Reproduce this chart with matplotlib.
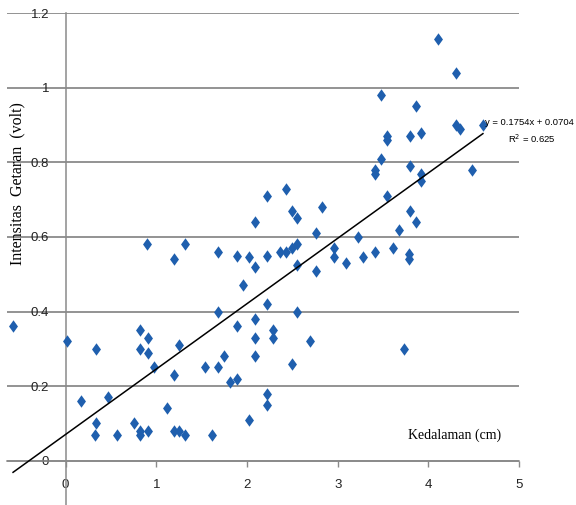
import matplotlib
matplotlib.use("Agg")
import matplotlib.pyplot as plt
from matplotlib.path import Path
from matplotlib.ticker import FuncFormatter
import numpy as np

# depth (cm) vs vibration intensity (volt)
kedalaman = [-0.58, 0.02, 0.33, 0.17, 0.47, 0.33, 0.32, 0.57, 0.75, 0.82,
             0.82, 0.91, 0.82, 0.82, 0.91, 0.91, 0.97, 0.90, 1.12, 1.19,
             1.25, 1.32, 1.19, 1.25, 1.19, 1.32, 1.61, 1.54, 1.68, 1.68,
             1.68, 1.75, 1.81, 1.89, 1.89, 1.89, 1.95, 2.02, 2.02, 2.09,
             2.09, 2.09, 2.09, 2.09, 2.22, 2.22, 2.22, 2.22, 2.22, 2.29,
             2.29, 2.36, 2.43, 2.43, 2.50, 2.50, 2.50, 2.55, 2.55, 2.55,
             2.55, 2.69, 2.76, 2.76, 2.83, 2.96, 2.96, 3.09, 3.22, 3.28,
             3.41, 3.41, 3.41, 3.48, 3.48, 3.54, 3.54, 3.54, 3.61, 3.67,
             3.73, 3.79, 3.79, 3.80, 3.80, 3.80, 3.86, 3.86, 3.92, 3.92,
             3.92, 4.10, 4.30, 4.30, 4.35, 4.48, 4.60]
intensitas = [0.36, 0.32, 0.30, 0.16, 0.17, 0.10, 0.07, 0.07, 0.10, 0.08,
              0.07, 0.08, 0.35, 0.30, 0.33, 0.29, 0.25, 0.58, 0.14, 0.08,
              0.08, 0.07, 0.23, 0.31, 0.54, 0.58, 0.07, 0.25, 0.25, 0.40,
              0.56, 0.28, 0.21, 0.22, 0.36, 0.55, 0.47, 0.11, 0.545, 0.38,
              0.33, 0.28, 0.52, 0.64, 0.42, 0.18, 0.15, 0.55, 0.71, 0.35,
              0.33, 0.56, 0.56, 0.73, 0.26, 0.57, 0.67, 0.40, 0.525, 0.58,
              0.65, 0.32, 0.51, 0.61, 0.68, 0.57, 0.545, 0.53, 0.60, 0.545,
              0.56, 0.78, 0.77, 0.81, 0.98, 0.71, 0.87, 0.86, 0.57, 0.62,
              0.30, 0.555, 0.54, 0.67, 0.79, 0.87, 0.64, 0.95, 0.77, 0.75,
              0.88, 1.13, 1.04, 0.90, 0.89, 0.78, 0.90]

# linear trendline as printed on the chart
slope = 0.1754
intercept = 0.0704
trend_x = [-0.58, 4.60]

x_ticks = [0, 1, 2, 3, 4, 5]
y_ticks = [0, 0.2, 0.4, 0.6, 0.8, 1.0, 1.2]

sans = ['Liberation Sans', 'DejaVu Sans']
serif = ['Liberation Serif', 'DejaVu Serif']

fig = plt.figure(figsize=(5.76, 5.05), dpi=100)
ax = fig.add_axes([6.7 / 576, 0.0, 512.5 / 576, (505 - 13.3) / 505])
ax.set_xlim(-0.65, 5.0)
ax.set_ylim(-0.119, 1.2)

# horizontal grid
for yv in y_ticks:
    ax.axhline(yv, color='#8a8a8a', lw=1.3, zorder=1)

# axes crossing at the origin
ax.spines['left'].set_position(('data', 0))
ax.spines['bottom'].set_position(('data', 0))
ax.spines['top'].set_visible(False)
ax.spines['right'].set_visible(False)
ax.spines['left'].set_color('#8a8a8a')
ax.spines['bottom'].set_color('#8a8a8a')
ax.spines['left'].set_linewidth(1.1)
ax.spines['bottom'].set_linewidth(1.1)

ax.set_xticks(x_ticks)
ax.set_yticks(y_ticks)
ax.yaxis.set_major_formatter(FuncFormatter(lambda v, p: '%g' % v))
ax.tick_params(axis='x', direction='out', length=4, width=1, color='#8a8a8a',
               pad=9, labelsize=9.5)
ax.tick_params(axis='y', length=0, pad=12, labelsize=9.5)
for lab in ax.get_xticklabels() + ax.get_yticklabels():
    lab.set_family(sans)
    lab.set_color('#222222')

# diamond marker, a bit taller than wide
diamond = Path([(0, 1), (0.72, 0), (0, -1), (-0.72, 0), (0, 1)],
               [Path.MOVETO, Path.LINETO, Path.LINETO, Path.LINETO, Path.CLOSEPOLY])
ax.scatter(kedalaman, intensitas, marker=diamond, s=80, color='#1f5fae',
           linewidths=0, zorder=3, clip_on=False)

tx = np.array(trend_x)
ax.plot(tx, slope * tx + intercept, color='black', lw=1.1, zorder=4)

ax.text(4.62, 0.907, 'y = 0.1754x + 0.0704', family=sans, fontsize=6.8,
        ha='left', va='center', clip_on=False)
ax.text(5.14, 0.863, 'R$^2$ = 0.625', family=sans, fontsize=6.8,
        ha='center', va='center', clip_on=False)

ax.text(4.29, 0.069, 'Kedalaman (cm)', family=serif, fontsize=10,
        ha='center', va='center')
fig.text(17 / 576, 1 - 184 / 505, 'Intensitas  Getaran  (volt)', family=serif,
         fontsize=11.5, rotation=90, ha='center', va='center')

fig.savefig('out.png', dpi=100)
